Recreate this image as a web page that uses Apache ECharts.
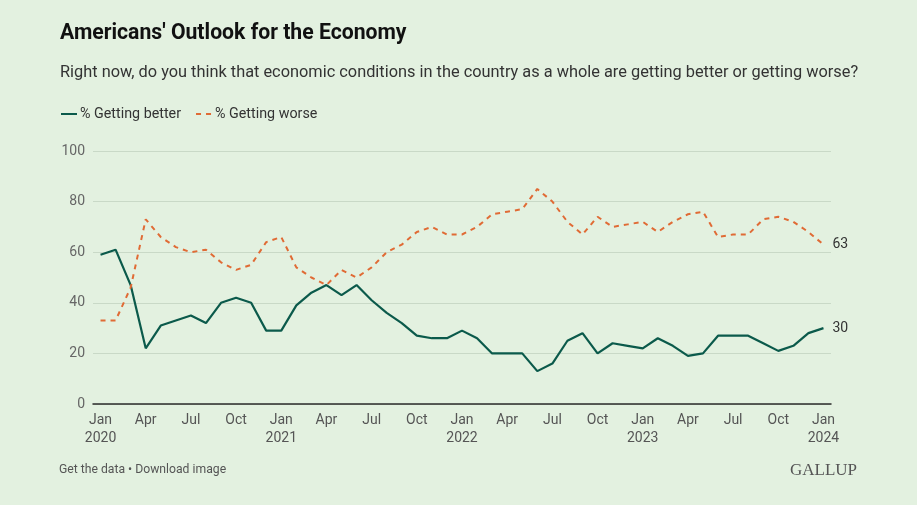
<!DOCTYPE html>
<html>
<head>
<meta charset="utf-8">
<script src="https://cdn.jsdelivr.net/npm/echarts@6/dist/echarts.min.js"></script>
<style>
  html, body { margin: 0; padding: 0; background: #e3f1e0; }
  #chart { width: 917px; height: 505px; }
</style>
</head>
<body>
<div id="chart"></div>
<script>
// Monthly survey, Jan 2020 – Jan 2024
const months = ['Jan','Feb','Mar','Apr','May','Jun','Jul','Aug','Sep','Oct','Nov','Dec'];
const startYear = 2020;
const categories = [];
for (let i = 0; i < 49; i++) {
  const m = months[i % 12];
  const y = startYear + Math.floor(i / 12);
  categories.push(m === 'Jan' ? m + '\n' + y : m);
}
const gettingBetter = [
  59, 61, 47, 22, 31, 33, 35, 32, 40, 42, 40, 29,   // 2020
  29, 39, 44, 47, 43, 47, 41, 36, 32, 27, 26, 26,   // 2021
  29, 26, 20, 20, 20, 13, 16, 25, 28, 20, 24, 23,   // 2022
  22, 26, 23, 19, 20, 27, 27, 27, 24, 21, 23, 28,   // 2023
  30                                                // 2024
];
const gettingWorse = [
  33, 33, 46, 73, 66, 62, 60, 61, 56, 53, 55, 64,   // 2020
  66, 54, 50, 47, 53, 50, 54, 60, 63, 68, 70, 67,   // 2021
  67, 70, 75, 76, 77, 85, 80, 72, 67, 74, 70, 71,   // 2022
  72, 68, 72, 75, 76, 66, 67, 67, 73, 74, 72, 68,   // 2023
  63                                                // 2024
];
const yTicks = [0, 20, 40, 60, 80, 100];

const GREEN = '#0b5a4b';
const ORANGE = '#e06b35';
const FONT = 'Roboto, "Noto Sans", sans-serif';

const chart = echarts.init(document.getElementById('chart'), null, { renderer: 'canvas' });
chart.setOption({
  backgroundColor: '#e3f1e0',
  animation: false,
  textStyle: { fontFamily: FONT },
  title: [
    { text: "Americans' Outlook for the Economy", left: 60, top: 23, padding: 0,
      textStyle: { fontFamily: FONT, fontSize: 21.2, fontWeight: 'bold', color: '#111' } },
    { text: 'Right now, do you think that economic conditions in the country as a whole are getting better or getting worse?',
      left: 60, top: 65, padding: 0,
      textStyle: { fontFamily: FONT, fontSize: 16.35, fontWeight: 'normal', color: '#333' } }
  ],
  legend: {
    left: 60, top: 107, padding: 0, itemWidth: 16, itemHeight: 8, itemGap: 14,
    itemStyle: { opacity: 0 },
    textStyle: { fontFamily: FONT, fontSize: 14.3, color: '#333', padding: [0, 0, 0, -2] },
    data: ['% Getting better', '% Getting worse']
  },
  grid: { left: 93, right: 86, top: 151, bottom: 101, containLabel: false },
  xAxis: {
    type: 'category',
    data: categories,
    boundaryGap: true,
    axisLine: { show: true, lineStyle: { color: '#2b2b2b', width: 1.5 } },
    axisTick: { show: false },
    axisLabel: {
      interval: (idx) => idx % 3 === 0,
      color: '#555', fontSize: 14, fontFamily: FONT, lineHeight: 18, margin: 7
    },
    splitLine: { show: false }
  },
  yAxis: {
    type: 'value', min: yTicks[0], max: yTicks[yTicks.length - 1], interval: 20,
    axisLine: { show: false }, axisTick: { show: false },
    axisLabel: { color: '#666', fontSize: 14, fontFamily: FONT, margin: 8 },
    splitLine: { lineStyle: { color: '#c9d9c7', width: 1 } }
  },
  series: [
    {
      name: '% Getting better', type: 'line', data: gettingBetter,
      symbol: 'none', smooth: false,
      lineStyle: { color: GREEN, width: 2.2 }, itemStyle: { color: GREEN },
      endLabel: { show: true, formatter: '{c}', color: '#333', fontSize: 14, fontFamily: FONT, distance: 9 }
    },
    {
      name: '% Getting worse', type: 'line', data: gettingWorse,
      symbol: 'none', smooth: false,
      lineStyle: { color: ORANGE, width: 2, type: [5, 5] }, itemStyle: { color: ORANGE },
      endLabel: { show: true, formatter: '{c}', color: '#333', fontSize: 14, fontFamily: FONT, distance: 9 }
    }
  ],
  graphic: [
    { type: 'text', left: 59, top: 464,
      style: { text: 'Get the data • Download image', fill: '#555', font: '12.2px ' + FONT } },
    { type: 'text', left: 790, top: 462,
      style: { text: 'GALLUP', fill: '#555', font: '17px "Liberation Serif", "DejaVu Serif", serif' } }
  ]
});
</script>
</body>
</html>
